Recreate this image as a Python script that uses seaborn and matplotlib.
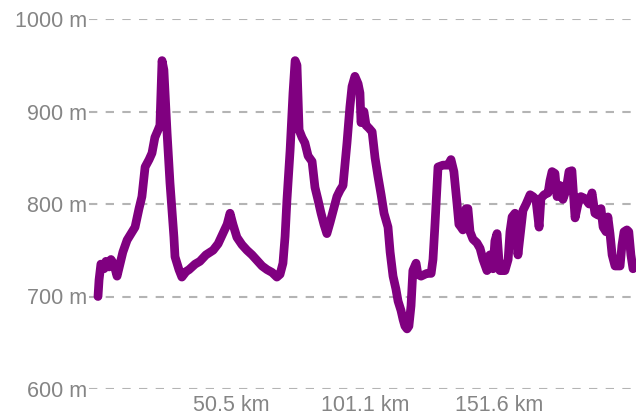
import matplotlib
matplotlib.use("Agg")
import matplotlib.pyplot as plt
import seaborn as sns
import pandas as pd

# distance along route (km) and elevation (m)
distance_km = [
    0.0, 0.4, 1.1, 2.3, 3.0, 4.2, 4.9, 6.0, 7.2, 8.3, 9.4, 11.0, 12.5, 14.0, 15.5,
    16.6, 17.8, 19.3, 20.4, 21.5, 22.7, 23.4, 24.2, 24.9, 26.1, 27.2, 28.7, 29.1,
    30.6, 31.7, 33.3, 34.4, 36.7, 38.5, 40.8, 43.5, 45.4, 47.2, 48.8, 49.9, 51.0,
    52.5, 54.4, 56.3, 58.2, 60.1, 62.0, 63.9, 65.8, 67.6, 68.8, 69.9, 70.7, 71.4,
    72.6, 73.7, 74.5, 75.2, 76.0, 77.1, 78.2, 79.4, 80.9, 82.0, 83.1, 84.3, 85.4,
    86.5, 87.7, 88.8, 90.3, 91.5, 92.6, 94.1, 95.2, 96.0, 97.1, 98.3, 99.0, 99.4,
    100.5, 101.3, 102.4, 103.6, 104.7, 105.8, 107.0, 108.1, 109.6, 110.4, 111.5,
    112.6, 113.4, 114.5, 115.3, 116.0, 116.8, 117.5, 118.3, 119.0, 120.2, 120.9,
    122.1, 124.3, 125.9, 126.6, 127.4, 128.5, 130.4, 132.3, 133.4, 134.5, 135.7,
    136.4, 137.2, 137.9, 139.1, 139.8, 140.6, 141.7, 143.2, 144.4, 145.5, 147.0,
    148.1, 149.3, 150.0, 150.8, 151.5, 151.9, 153.8, 155.0, 155.7, 156.5, 157.6,
    158.4, 158.7, 159.5, 160.6, 161.8, 163.3, 164.4, 165.5, 166.7, 167.4, 168.6,
    170.1, 170.8, 171.6, 172.7, 173.5, 174.6, 175.7, 176.9, 178.0, 179.1, 180.3,
    181.4, 182.5, 184.0, 185.6, 186.7, 187.8, 189.0, 190.1, 190.9, 192.0, 192.7,
    193.5, 194.3, 195.4, 196.5, 197.3, 198.0, 198.8, 199.9, 200.6, 201.4, 202.2,
]
elevation_m = [
    700, 718, 735, 730, 738, 732, 740, 735, 722, 735, 748, 761, 768, 775, 795,
    808, 840, 848, 855, 872, 880, 885, 955, 945, 877, 823, 764, 743,
    729, 721, 727, 729, 735, 738, 745, 750, 757, 768, 778, 790, 778,
    764, 756, 750, 745, 739, 733, 729, 726, 721, 724, 736, 765, 804,
    858, 920, 955, 950, 880, 872, 866, 852, 846, 818, 805, 790, 778,
    768, 780, 792, 808, 815, 820, 866, 905, 927, 938, 930, 920, 888,
    900, 885, 882, 878, 850, 830, 810, 790, 775, 748, 722,
    708, 695, 685, 675, 668, 665, 668, 690, 728, 736, 724,
    722, 725, 725, 740, 780, 840, 842, 842, 848, 835, 800,
    778, 775, 772, 795, 795, 770, 762, 758, 752, 740, 728,
    745, 730, 760, 768, 740, 728, 728, 740, 770, 786, 790,
    760, 745, 765, 793, 800, 810, 808, 805, 775, 806, 810,
    812, 825, 835, 833, 808, 820, 805, 815, 835, 836, 785,
    800, 808, 806, 800, 812, 790, 788, 795, 775, 770, 786,
    768, 745, 733, 733, 733, 755, 770, 772, 770, 745, 730,
]

x_ticks = [50.5, 101.1, 151.6]
x_tick_labels = ["50.5 km", "101.1 km", "151.6 km"]
y_ticks = [600, 700, 800, 900, 1000]
y_tick_labels = ["600 m", "700 m", "800 m", "900 m", "1000 m"]

sns.set_theme(style="white")
plt.rcParams["font.family"] = ["Liberation Sans", "DejaVu Sans"]

df = pd.DataFrame({"distance": distance_km, "elevation": elevation_m})

W, H = 643, 417
fig = plt.figure(figsize=(W / 100, H / 100), dpi=100)
ax = fig.add_axes([89 / W, (H - 389) / H, (636 - 89) / W, (389 - 19) / H])

sns.lineplot(data=df, x="distance", y="elevation", ax=ax, color="#800080",
             linewidth=6.3, estimator=None, sort=False,
             solid_joinstyle="round", solid_capstyle="round")

ax.set_xlim((89 - 98) / 2.646, (636 - 98) / 2.646)
ax.set_ylim(600, 1000)
ax.set_xticks(x_ticks)
ax.set_xticklabels(x_tick_labels)
ax.set_yticks(y_ticks)
ax.set_yticklabels(y_tick_labels)
ax.set_xlabel("")
ax.set_ylabel("")

for s in ax.spines.values():
    s.set_visible(False)

ax.yaxis.grid(True, color="#b4b4b4", linewidth=1.5, linestyle=(0, (4, 4)))
ax.xaxis.grid(False)
ax.set_axisbelow(True)
ax.tick_params(axis="both", length=0, labelsize=15.5, labelcolor="#858585")
ax.tick_params(axis="y", pad=1.5)
ax.tick_params(axis="x", pad=4)

fig.savefig("out.png", dpi=100, facecolor="white")
